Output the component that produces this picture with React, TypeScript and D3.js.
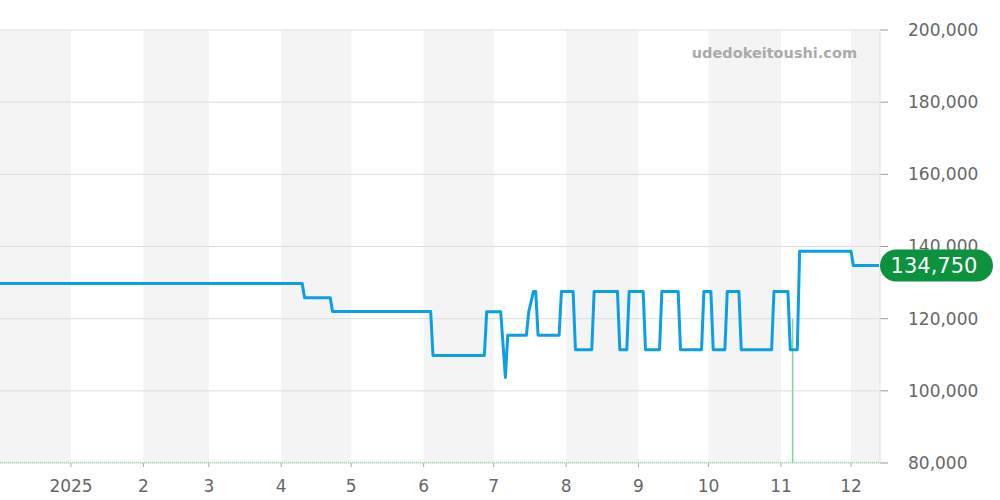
import React from "react";
import * as d3 from "d3";

const dates: string[] = [
  "2024-12-01", "2025-04-10", "2025-04-11", "2025-04-22", "2025-04-23",
  "2025-06-04", "2025-06-05", "2025-06-27", "2025-06-28", "2025-07-04",
  "2025-07-06", "2025-07-07", "2025-07-15", "2025-07-16", "2025-07-18",
  "2025-07-19", "2025-07-20", "2025-07-29", "2025-07-30", "2025-08-04",
  "2025-08-05", "2025-08-12", "2025-08-13", "2025-08-23", "2025-08-24",
  "2025-08-27", "2025-08-28", "2025-09-03", "2025-09-04", "2025-09-10",
  "2025-09-11", "2025-09-18", "2025-09-19", "2025-09-28", "2025-09-29",
  "2025-10-02", "2025-10-03", "2025-10-08", "2025-10-09", "2025-10-14",
  "2025-10-15", "2025-10-28", "2025-10-29", "2025-11-04", "2025-11-05",
  "2025-11-08", "2025-11-09", "2025-12-01", "2025-12-02", "2025-12-13",
];
const prices: number[] = [
  129750, 129750, 125800, 125800, 122000,
  122000, 109800, 109800, 121900, 121900,
  103700, 115400, 115400, 121900, 127500,
  127500, 115400, 115400, 127500, 127500,
  111400, 111400, 127500, 127500, 111400,
  111400, 127500, 127500, 111400, 111400,
  127500, 127500, 111400, 111400, 127500,
  127500, 111400, 111400, 127500, 127500,
  111400, 111400, 127500, 127500, 111400,
  111400, 138700, 138700, 134750, 134750,
];
const yTicks: number[] = [80000, 100000, 120000, 140000, 160000, 180000, 200000];
const monthStarts: string[] = [
  "2025-01-01", "2025-02-01", "2025-03-01", "2025-04-01", "2025-05-01", "2025-06-01",
  "2025-07-01", "2025-08-01", "2025-09-01", "2025-10-01", "2025-11-01", "2025-12-01",
];
const monthLabels: string[] = ["2025", "2", "3", "4", "5", "6", "7", "8", "9", "10", "11", "12"];
const bandStarts: string[] = ["2024-12-01", "2025-02-01", "2025-04-01", "2025-06-01", "2025-08-01", "2025-10-01", "2025-12-01"];
const bandEnds: string[] = ["2025-01-01", "2025-03-01", "2025-05-01", "2025-07-01", "2025-09-01", "2025-11-01", "2026-01-01"];
const volumeDate = "2025-11-06T00:00";
const volumeValue = 120000;
const lastPrice = 134750;

const parse = (s: string) => new Date(s.length > 10 ? s : s + "T00:00");

export default function App() {
  const W = 1000, H = 500;
  const plotL = 0, plotR = 880, plotT = 30, plotB = 463;
  const x = d3.scaleTime()
    .domain([new Date(2024, 11, 1, 14), new Date(2025, 11, 13, 10)])
    .range([plotL, plotR]);
  const y = d3.scaleLinear().domain([80000, 200000]).range([plotB, plotT]);
  const pts = dates.map((d, i) => [parse(d), prices[i]] as [Date, number]);
  const line = d3.line<[Date, number]>().x(d => x(d[0])).y(d => y(d[1]));
  const font = "'DejaVu Sans', sans-serif";
  const clamp = (v: number) => Math.max(plotL, Math.min(plotR, v));

  return (
    <svg width={W} height={H} style={{ position: "absolute", left: 0, top: 0, background: "#fff" }}>
      <defs>
        <clipPath id="plot">
          <rect x={plotL} y={plotT} width={plotR - plotL} height={plotB - plotT} />
        </clipPath>
      </defs>
      {bandStarts.map((s, i) => {
        const x0 = clamp(x(parse(s)));
        const x1 = clamp(x(parse(bandEnds[i])));
        return <rect key={s} x={x0} y={plotT} width={x1 - x0} height={plotB - plotT} fill="#f4f4f4" />;
      })}
      {yTicks.map(t => (
        <g key={t}>
          <line x1={plotL} x2={plotR} y1={y(t)} y2={y(t)} stroke="#dddddd" strokeWidth={1} />
          <line x1={plotR} x2={plotR + 8} y1={y(t)} y2={y(t)} stroke="#999" strokeWidth={1} />
          <text x={908} y={y(t)} dy="0.35em" fontFamily={font} fontSize={17} fill="#666">
            {d3.format(",")(t)}
          </text>
        </g>
      ))}
      <line x1={plotR} x2={plotR} y1={plotT} y2={plotB} stroke="#e2e2e2" strokeWidth={1} />
      {monthStarts.map((m, i) => (
        <g key={m}>
          <line x1={x(parse(m))} x2={x(parse(m))} y1={plotB} y2={plotB + 4} stroke="#aaa" strokeWidth={1} />
          <text x={x(parse(m))} y={486} dy="0.35em" textAnchor="middle" fontFamily={font} fontSize={17} fill="#666">
            {monthLabels[i]}
          </text>
        </g>
      ))}
      <line x1={plotL} x2={plotR} y1={plotB - 0.5} y2={plotB - 0.5} stroke="#a6d8ae" strokeWidth={1.5} strokeDasharray="1,1" />
      <line x1={x(parse(volumeDate))} x2={x(parse(volumeDate))} y1={y(volumeValue)} y2={plotB}
        stroke="#86d494" strokeWidth={1.5} />
      <text x={857} y={58} textAnchor="end" fontFamily={font} fontWeight="bold" fontSize={14.5} fill="#aaaaaa">
        udedokeitoushi.com
      </text>
      <g clipPath="url(#plot)">
        <path d={line(pts) || ""} fill="none" stroke="#0ba0e4" strokeWidth={3} strokeLinejoin="round" />
      </g>
      <rect x={plotR} y={y(lastPrice) - 16} width={113} height={32} rx={16} ry={16} fill="#0b923d" />
      <text x={plotR + 54} y={y(lastPrice)} dy="0.36em" textAnchor="middle" fontFamily={font} fontSize={21} fill="#fff">
        {d3.format(",")(lastPrice)}
      </text>
    </svg>
  );
}
